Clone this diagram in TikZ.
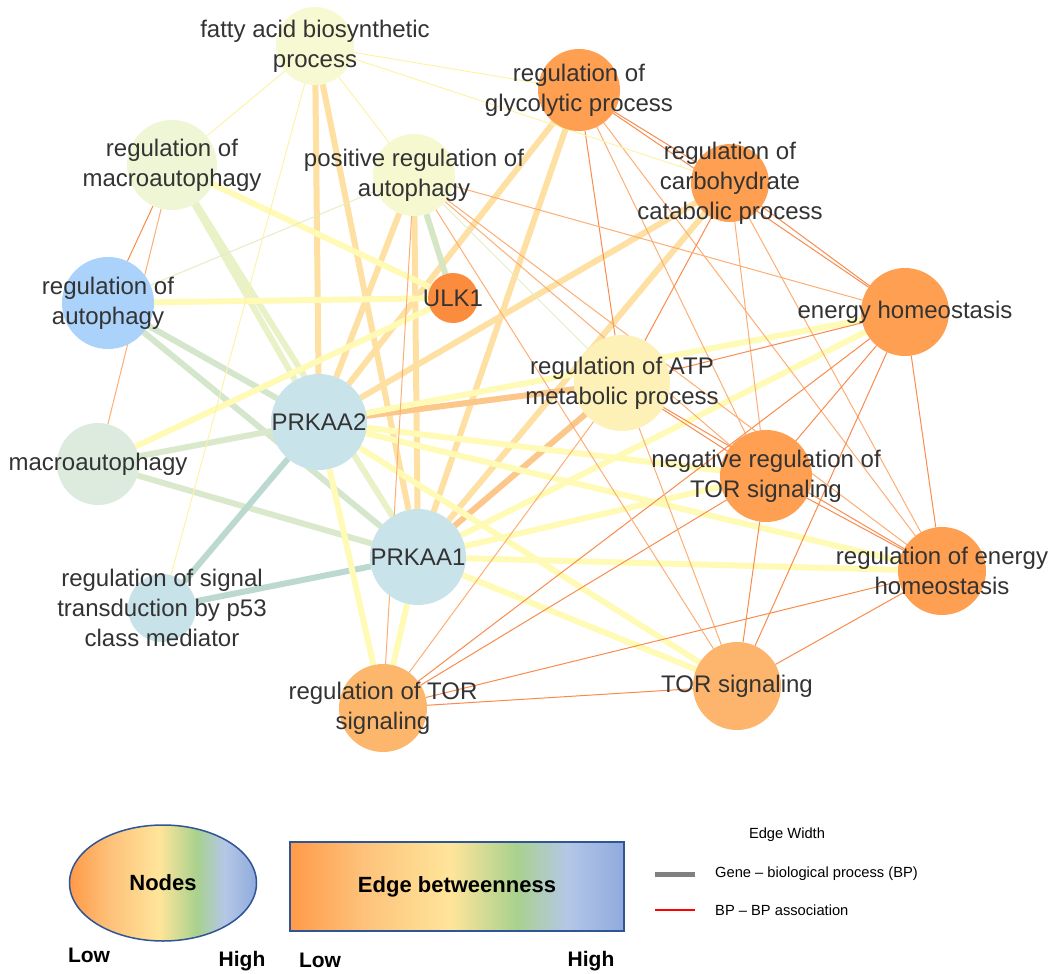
\documentclass[tikz,border=0pt]{standalone}
\usepackage{fontspec}
\setmainfont{Liberation Sans}
\usetikzlibrary{shapes.geometric}
\pgfdeclarelayer{edges}
\pgfsetlayers{edges,main}
\definecolor{txt}{HTML}{333333}
\definecolor{nFA}{HTML}{F6F9D1}
\definecolor{nRM}{HTML}{EEF6D5}
\definecolor{nPRA}{HTML}{F6F9D0}
\definecolor{nRA}{HTML}{AAD2FA}
\definecolor{nULK}{HTML}{FC8C3D}
\definecolor{nPK}{HTML}{C9E3EA}
\definecolor{nM}{HTML}{DCEBDD}
\definecolor{nPF}{HTML}{C8E2E9}
\definecolor{nRT}{HTML}{FDB76C}
\definecolor{nOr}{HTML}{FE9F51}
\definecolor{nATP}{HTML}{FEF1B8}
\definecolor{nTS}{HTML}{FDB56D}
\definecolor{eOrL}{HTML}{FDE0A2}
\definecolor{eOrD}{HTML}{FCC78B}
\definecolor{eYel}{HTML}{FFFBB6}
\definecolor{eGrY}{HTML}{E9F1C6}
\definecolor{eGrB}{HTML}{D4E6CB}
\definecolor{eGrM}{HTML}{DAE9CC}
\definecolor{eTeal}{HTML}{BBD9D0}
\definecolor{eGrU}{HTML}{D4E6C3}
\definecolor{tOr}{HTML}{F98B4C}
\definecolor{tOrL}{HTML}{FCAE74}
\definecolor{tYel}{HTML}{FCF3A8}
\definecolor{tGr}{HTML}{E2EEC4}
\definecolor{legblue}{HTML}{2F5597}
\definecolor{lgA}{HTML}{FF9A48}
\definecolor{lgB}{HTML}{FDC27B}
\definecolor{lgC}{HTML}{FFE59A}
\definecolor{lgD}{HTML}{A9D18E}
\definecolor{lgE}{HTML}{B4C7E7}
\definecolor{lgF}{HTML}{8FAADC}
\pgfdeclarehorizontalshading{legshade}{100bp}{color(0bp)=(lgA); color(25bp)=(lgA); color(36bp)=(lgB); color(49bp)=(lgC); color(59bp)=(lgD); color(66.5bp)=(lgE); color(75bp)=(lgF); color(100bp)=(lgF)}
\begin{document}
\begin{tikzpicture}[x=1pt,y=-1pt,
  bp/.style={circle, inner sep=0pt, outer sep=0pt, draw=none, minimum size=#1},
  lbl/.style={text=txt, font=\fontsize{24}{30}\selectfont, align=center, inner sep=0pt},
  gene/.style={line width=6pt},
  bpedge/.style={line width=1pt},
  legtxt/.style={font=\bfseries\fontsize{22}{26}\selectfont, text=black, inner sep=0pt},
  leglh/.style={font=\bfseries\fontsize{21}{25}\selectfont, text=black, inner sep=0pt},
  legsm/.style={font=\fontsize{14.7}{18}\selectfont, text=black, inner sep=0pt}]
\useasboundingbox (0,0) rectangle (1050,974);
% nodes
\node[bp=78, fill=nFA] (FA) at (315,46) {};
\node[bp=90, fill=nRM] (RM) at (172,165) {};
\node[bp=82, fill=nPRA] (PRA) at (414,175) {};
\node[bp=92, fill=nRA] (RA) at (108,303) {};
\node[bp=50, fill=nULK] (ULK) at (453,298) {};
\node[bp=96, fill=nPK] (PA2) at (319,422) {};
\node[bp=82, fill=nM] (M) at (98,464) {};
\node[bp=96, fill=nPK] (PA1) at (418,557) {};
\node[bp=68, fill=nPF] (PF) at (162,608) {};
\node[bp=88, fill=nRT] (RTOR) at (383,708) {};
\node[bp=82, fill=nOr] (RG) at (579,90) {};
\node[bp=78, fill=nOr] (RC) at (730,183) {};
\node[bp=88, fill=nOr] (EH) at (905,312) {};
\node[bp=96, fill=nATP] (ATP) at (622,383) {};
\node[bp=92, fill=nOr] (NTOR) at (766,476) {};
\node[bp=88, fill=nOr] (REH) at (942,571) {};
\node[bp=88, fill=nTS] (TS) at (737,686) {};
% edges
\begin{pgfonlayer}{edges}
\foreach \b/\c in {FA/eOrL, RM/eGrY, RA/eGrB, M/eGrM, PF/eTeal, PRA/eOrL, RG/eOrL, RC/eOrL, ATP/eOrD, EH/eYel, NTOR/eYel, REH/eYel, TS/eYel, RTOR/eYel}{
  \draw[gene, draw=\c] (PA2) -- (\b);
  \draw[gene, draw=\c] (PA1) -- (\b);
}
\foreach \b/\c in {RA/eYel, RM/eYel, M/eYel, PRA/eGrU}{
  \draw[gene, draw=\c] (ULK) -- (\b);
}
\foreach \a/\b/\c in {RG/RC/tOr, RG/EH/tOr, RG/ATP/tOr, RG/NTOR/tOrL, RG/REH/tOrL, RC/EH/tOr, RC/ATP/tOr, RC/NTOR/tOrL, RC/REH/tOrL, EH/ATP/tOr, EH/NTOR/tOr, EH/REH/tOr, EH/TS/tOr, EH/RTOR/tOr, EH/PRA/tOrL, ATP/NTOR/tOr, ATP/REH/tOr, ATP/TS/tOrL, ATP/RTOR/tOrL, NTOR/REH/tOr, NTOR/TS/tOr, NTOR/RTOR/tOr, NTOR/PRA/tOrL, REH/TS/tOr, REH/RTOR/tOr, REH/PRA/tOrL, TS/RTOR/tOr, TS/PRA/tOrL, RTOR/PRA/tOrL, RM/RA/tOr, RM/M/tOrL, FA/RG/tYel, FA/RC/tYel, FA/RM/tYel, FA/PRA/tYel, FA/PF/tYel, RA/PRA/tGr, PRA/ATP/tGr}{
  \draw[bpedge, draw=\c] (\a) -- (\b);
}
\end{pgfonlayer}
% labels
\node[lbl] (FA-l) at (FA) {fatty acid biosynthetic\\process};
\node[lbl] (RM-l) at (RM) {regulation of\\macroautophagy};
\node[lbl] (PRA-l) at (PRA) {positive regulation of\\autophagy};
\node[lbl] (RA-l) at (RA) {regulation of\\autophagy};
\node[lbl] (ULK-l) at (ULK) {ULK1};
\node[lbl] (PA2-l) at (PA2) {PRKAA2};
\node[lbl] (M-l) at (M) {macroautophagy};
\node[lbl] (PA1-l) at (PA1) {PRKAA1};
\node[lbl] (PF-l) at (PF) {regulation of signal\\transduction by p53\\class mediator};
\node[lbl] (RTOR-l) at (RTOR) {regulation of TOR\\signaling};
\node[lbl] (RG-l) at (RG) {regulation of\\glycolytic process};
\node[lbl] (RC-l) at (RC) {regulation of\\carbohydrate\\catabolic process};
\node[lbl] (EH-l) at (EH) {energy homeostasis};
\node[lbl] (ATP-l) at (ATP) {regulation of ATP\\metabolic process};
\node[lbl] (NTOR-l) at (NTOR) {negative regulation of\\TOR signaling};
\node[lbl] (REH-l) at (REH) {regulation of energy\\homeostasis};
\node[lbl] (TS-l) at (TS) {TOR signaling};
% legend
\node[ellipse, minimum width=187pt, minimum height=116pt, shade, shading=legshade, draw=legblue, line width=1.5pt, legtxt] (legN) at (163,883) {Nodes};
\node[rectangle, minimum width=334pt, minimum height=89pt, shade, shading=legshade, draw=legblue, line width=1.5pt, legtxt] (legE) at (457,886.5) {Edge betweenness};
\node[leglh, anchor=base] (lowN) at (89,962) {Low};
\node[leglh, anchor=base] (highN) at (242,966) {High};
\node[leglh, anchor=base] (lowE) at (320,967) {Low};
\node[leglh, anchor=base] (highE) at (591,966) {High};
\node[legsm] (ew) at (787,835) {Edge Width};
\coordinate (g1) at (655,874);
\coordinate (g2) at (695,874);
\draw[line width=5pt, draw=black!50] (g1) -- (g2);
\node[legsm, anchor=west] (gtxt) at (715,874) {Gene – biological process (BP)};
\coordinate (r1) at (655,910);
\coordinate (r2) at (695,910);
\draw[line width=1.2pt, draw=red] (r1) -- (r2);
\node[legsm, anchor=west] (rtxt) at (715,910) {BP – BP association};
\end{tikzpicture}
\end{document}
